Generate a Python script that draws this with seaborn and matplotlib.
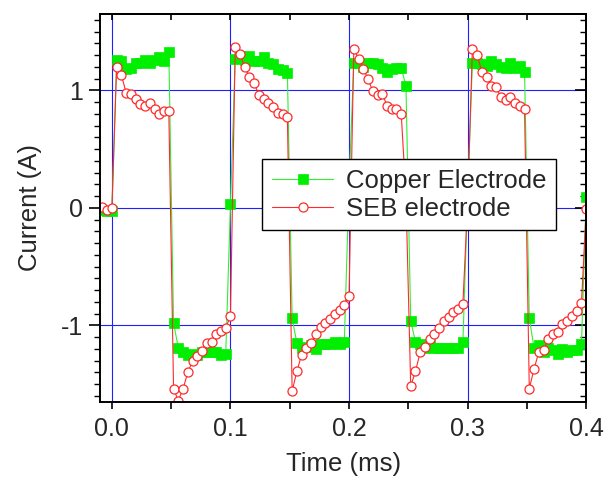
import matplotlib
matplotlib.use('Agg')
import matplotlib.pyplot as plt
import seaborn as sns

# time axis (ms), one sample every 0.004 ms
time_ms = [-0.008, -0.004, 0.000, 0.004, 0.008, 0.012, 0.016, 0.020, 0.024, 0.028,
           0.032, 0.036, 0.040, 0.044, 0.048, 0.052, 0.056, 0.060, 0.064, 0.068,
           0.072, 0.076, 0.080, 0.084, 0.088, 0.092, 0.096, 0.100, 0.104, 0.108,
           0.112, 0.116, 0.120, 0.124, 0.128, 0.132, 0.136, 0.140, 0.144, 0.148,
           0.152, 0.156, 0.160, 0.164, 0.168, 0.172, 0.176, 0.180, 0.184, 0.188,
           0.192, 0.196, 0.200, 0.204, 0.208, 0.212, 0.216, 0.220, 0.224, 0.228,
           0.232, 0.236, 0.240, 0.244, 0.248, 0.252, 0.256, 0.260, 0.264, 0.268,
           0.272, 0.276, 0.280, 0.284, 0.288, 0.292, 0.296, 0.300, 0.304, 0.308,
           0.312, 0.316, 0.320, 0.324, 0.328, 0.332, 0.336, 0.340, 0.344, 0.348,
           0.352, 0.356, 0.360, 0.364, 0.368, 0.372, 0.376, 0.380, 0.384, 0.388,
           0.392, 0.396, 0.400]

copper = [-0.02, -0.03, -0.03, 1.26, 1.25, 1.18, 1.19, 1.23, 1.23, 1.26,
          1.23, 1.26, 1.28, 1.25, 1.33, -0.98, -1.19, -1.23, -1.25, -1.24,
          -1.25, -1.23, -1.23, -1.23, -1.23, -1.25, -1.24, 0.03, 1.27, 1.29,
          1.26, 1.29, 1.25, 1.25, 1.28, 1.23, 1.22, 1.18, 1.17, 1.15,
          -0.94, -1.15, -1.19, -1.18, -1.17, -1.20, -1.16, -1.16, -1.155, -1.14,
          -1.155, -1.14, 0.20, 1.23, 1.23, 1.20, 1.23, 1.23, 1.22, 1.19,
          1.16, 1.18, 1.19, 1.19, 1.04, -0.96, -1.14, -1.16, -1.19, -1.17,
          -1.19, -1.19, -1.19, -1.19, -1.19, -1.19, -1.14, 0.10, 1.23, 1.23,
          1.22, 1.21, 1.25, 1.22, 1.20, 1.19, 1.23, 1.19, 1.21, 1.16,
          -0.94, -1.19, -1.17, -1.23, -1.19, -1.21, -1.24, -1.20, -1.23, -1.21,
          -1.21, -1.16, 0.09]

seb = [0.01, -0.02, 0.00, 1.20, 1.13, 0.98, 0.97, 0.93, 0.885, 0.87,
       0.89, 0.84, 0.80, 0.82, 0.82, -1.54, -1.64, -1.54, -1.40, -1.305,
       -1.26, -1.22, -1.15, -1.14, -1.07, -1.05, -1.02, -0.92, 1.37, 1.305,
       1.20, 1.11, 1.06, 0.96, 0.93, 0.89, 0.86, 0.81, 0.80, 0.775,
       -1.56, -1.39, -1.25, -1.19, -1.15, -1.07, -1.01, -0.98, -0.95, -0.90,
       -0.87, -0.83, -0.75, 1.35, 1.27, 1.18, 1.10, 0.99, 0.96, 0.97,
       0.87, 0.845, 0.845, 0.80, 0.10, -1.52, -1.39, -1.23, -1.18, -1.12,
       -1.07, -1.02, -0.965, -0.93, -0.89, -0.86, -0.82, 0.05, 1.35, 1.30,
       1.16, 1.11, 1.04, 1.03, 0.94, 0.92, 0.94, 0.89, 0.87, 0.84,
       -1.54, -1.37, -1.23, -1.21, -1.12, -1.07, -1.06, -0.99, -0.965, -0.92,
       -0.88, -0.81, -0.01]

sns.set_theme(style='white')
plt.rcParams['font.family'] = ['Liberation Sans', 'DejaVu Sans']
plt.rcParams['axes.unicode_minus'] = False

fig = plt.figure(figsize=(6.1, 4.8), dpi=100)
ax = fig.add_axes([0.164, 0.163, 0.797, 0.808])

sns.lineplot(x=time_ms, y=copper, ax=ax, sort=False, color='#33ee33', linewidth=0.8,
             marker='s', markersize=6.5, markerfacecolor='#00ee00', markeredgecolor='#00ee00',
             markeredgewidth=0.5, label='Copper Electrode')
sns.lineplot(x=time_ms, y=seb, ax=ax, sort=False, color='#ff2a2a', linewidth=0.8,
             marker='o', markersize=6.5, markerfacecolor='white', markeredgecolor='#ff2a2a',
             markeredgewidth=0.9, label='SEB electrode')

ax.set_xlim(-0.01, 0.4)
ax.set_ylim(-1.65, 1.65)

# blue grid lines at the major ticks
for gx in [0.0, 0.1, 0.2, 0.3]:
    ax.axvline(gx, color='#2020ff', linewidth=0.8, zorder=0)
for gy in [-1, 0, 1]:
    ax.axhline(gy, color='#2020ff', linewidth=0.8, zorder=0)

ax.set_xticks([0.0, 0.1, 0.2, 0.3, 0.4])
ax.set_xticklabels(['0.0', '0.1', '0.2', '0.3', '0.4'])
ax.set_xticks([0.05, 0.15, 0.25, 0.35], minor=True)
ax.set_yticks([-1, 0, 1])
ax.set_yticklabels(['-1', '0', '1'])
ax.set_yticks([v / 10 for v in range(-16, 17) if v % 10 != 0], minor=True)

ax.tick_params(axis='x', which='both', direction='out', length=5, width=1.2,
               labelsize=18, color='black', bottom=True, pad=6)
ax.tick_params(axis='y', which='major', direction='out', length=8, width=1.2,
               labelsize=18, color='black', left=True, pad=4)
ax.tick_params(axis='y', which='minor', direction='out', length=4, width=1.0,
               color='black', left=True)

# inward ticks on top and right
top = ax.secondary_xaxis('top')
top.set_xticks([0.0, 0.05, 0.1, 0.15, 0.2, 0.25, 0.3, 0.35, 0.4])
top.tick_params(direction='in', length=4, width=1.2, labeltop=False, color='black')
right = ax.secondary_yaxis('right')
right.set_yticks([-1, 0, 1])
right.set_yticks([v / 10 for v in range(-16, 17) if v % 10 != 0], minor=True)
right.tick_params(which='major', direction='in', length=8, width=1.2, labelright=False, color='black')
right.tick_params(which='minor', direction='in', length=4, width=1.0, color='black')
for sec in (top, right):
    for s in sec.spines.values():
        s.set_linewidth(1.4)
        s.set_color('black')

for s in ax.spines.values():
    s.set_linewidth(1.4)
    s.set_color('black')

ax.set_xlabel('Time (ms)', fontsize=18.5, labelpad=8)
ax.set_ylabel('Current (A)', fontsize=18.5, labelpad=14)

leg = ax.legend(loc='upper left', bbox_to_anchor=(0.333, 0.626), fontsize=18.5,
                frameon=True, fancybox=False, framealpha=1, edgecolor='black',
                handlelength=2.4, handletextpad=0.5, borderpad=0.38, labelspacing=0.15,
                borderaxespad=0)
leg.get_frame().set_linewidth(1.0)

fig.savefig('out.png', dpi=100)
